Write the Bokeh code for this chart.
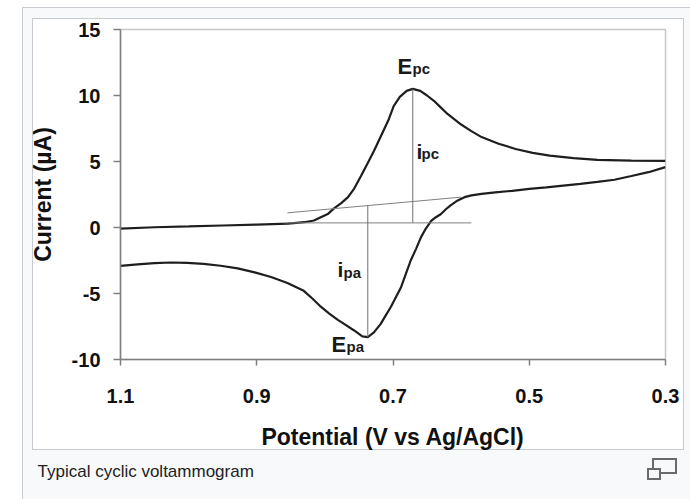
from bokeh.plotting import figure
from bokeh.models import Range1d, FixedTicker, Label, Title
from bokeh.embed import file_html
from bokeh.resources import INLINE

# Forward (cathodic) scan, potential decreasing 1.1 -> 0.3 V
fwd_E = [1.100, 1.050, 1.000, 0.950, 0.900, 0.854, 0.830, 0.816, 0.806, 0.795,
         0.787, 0.776, 0.766, 0.757, 0.747, 0.738, 0.728, 0.718, 0.707, 0.699,
         0.690, 0.680, 0.671, 0.660, 0.650, 0.640, 0.630, 0.620, 0.600, 0.585,
         0.570, 0.545, 0.520, 0.495, 0.470, 0.435, 0.400, 0.350, 0.300]
fwd_I = [-0.08, 0.02, 0.08, 0.15, 0.22, 0.30, 0.40, 0.53, 0.78, 1.05,
         1.43, 1.85, 2.30, 2.95, 3.90, 4.80, 5.80, 6.90, 8.10, 9.20,
         9.90, 10.35, 10.50, 10.35, 10.00, 9.60, 9.10, 8.60, 7.80, 7.30,
         6.85, 6.35, 5.95, 5.65, 5.45, 5.25, 5.12, 5.07, 5.05]

# Reverse (anodic) scan, potential increasing 0.3 -> 1.1 V
rev_E = [0.300, 0.325, 0.350, 0.375, 0.400, 0.425, 0.450, 0.475, 0.500, 0.525,
         0.550, 0.570, 0.585, 0.595, 0.605, 0.615, 0.622, 0.630, 0.637, 0.644,
         0.652, 0.659, 0.666, 0.674, 0.681, 0.688, 0.696, 0.703, 0.710, 0.718,
         0.728, 0.737, 0.745, 0.757, 0.769, 0.781, 0.794, 0.806, 0.818, 0.831,
         0.855, 0.879, 0.903, 0.928, 0.953, 0.978, 1.002, 1.026, 1.050, 1.075, 1.100]
rev_I = [4.57, 4.19, 3.90, 3.62, 3.45, 3.30, 3.17, 3.04, 2.92, 2.78,
         2.66, 2.55, 2.43, 2.30, 2.05, 1.70, 1.40, 1.00, 0.78, 0.50,
         -0.10, -0.75, -1.60, -2.50, -3.50, -4.50, -5.30, -6.00, -6.60, -7.30,
         -7.95, -8.30, -8.25, -7.80, -7.40, -7.00, -6.50, -6.00, -5.40, -4.80,
         -4.20, -3.75, -3.40, -3.10, -2.90, -2.75, -2.68, -2.65, -2.70, -2.80, -2.90]

# Baselines and peak markers
base_h_E = [0.860, 0.585]
base_h_I = [0.35, 0.35]
base_s_E = [0.855, 0.600]
base_s_I = [1.11, 2.30]
Epc, Ipc = 0.671, 10.50
Epa, Ipa = 0.737, -8.30
ipc_base = 0.35
ipa_base = 1.70

x_ticks = [1.1, 0.9, 0.7, 0.5, 0.3]
x_tick_labels = ["1.1", "0.9", "0.7", "0.5", "0.3"]
y_ticks = [-10, -5, 0, 5, 10, 15]
y_tick_labels = ["-10", "-5", "0", "5", "10", "15"]

FONT = "Liberation Sans"
W, H = 690, 499
FL, FR, FT, FB = 120, 665, 29, 359   # frame edges in page pixels
XS, XE, YS, YE = 1.1, 0.3, -10, 15

# Thumbnail frame painted as CSS background layers behind a transparent border
layers = [  # (color, x, y, w, h), topmost first
    ("#f8f9fa", 649, 470, 10, 8),    # enlarge icon, small box inside
    ("#6a6a6a", 647, 468, 14, 12),   # enlarge icon, small box edge
    ("#f8f9fa", 654, 460, 21, 12),   # enlarge icon, big box inside
    ("#6a6a6a", 652, 458, 25, 16),   # enlarge icon, big box edge
    ("#ffffff", 33, 19, 650, 430),   # image area
    ("#c8ccd1", 32, 18, 652, 432),   # image border
    ("#f8f9fa", 23, 8, 700, 500),    # thumb background
    ("#c8ccd1", 22, 7, 700, 500),    # thumb border
]
css = {
    "background-color": "#ffffff",
    "background-image": ", ".join(f"linear-gradient({c},{c})" for c, *_ in layers),
    "background-position": ", ".join(f"{x}px {y}px" for _, x, y, w, h in layers),
    "background-size": ", ".join(f"{w}px {h}px" for _, x, y, w, h in layers),
    "background-repeat": "no-repeat",
}

p = figure(width=W, height=H, output_backend="svg", toolbar_location=None,
           x_range=Range1d(XS, XE), y_range=Range1d(YS, YE),
           min_border_left=FL, min_border_right=W - FR, min_border_top=FT, min_border_bottom=H - FB,
           styles=css)
p.background_fill_color = "white"
p.border_fill_color = None
p.outline_line_color = "#c8c8c8"
p.outline_line_width = 1.5
p.grid.visible = False

# Data
p.line(fwd_E, fwd_I, line_color="#1e1e1e", line_width=2.2)
p.line(rev_E, rev_I, line_color="#1e1e1e", line_width=2.2)
p.line(base_h_E, base_h_I, line_color="#808080", line_width=1)
p.line(base_s_E, base_s_I, line_color="#808080", line_width=1)
p.line([Epc, Epc], [ipc_base, Ipc], line_color="#707070", line_width=1)
p.line([Epa, Epa], [Ipa, ipa_base], line_color="#707070", line_width=1)

def px2x(px):
    return XS + (px - FL) * (XE - XS) / (FR - FL)

def py2y(py):
    return YE + (py - FT) * (YS - YE) / (FB - FT)

def lab(px, py, t, size):
    p.add_layout(Label(x=px2x(px), y=py2y(py), text=t, text_font=FONT, text_font_size=size,
                       text_font_style="bold", text_color="#1a1a1a",
                       text_baseline="alphabetic", text_align="left"))

lab(397, 66, "E", "22px"); lab(412, 68, "pc", "15px")
lab(416, 151, "i", "21px"); lab(421, 153, "pc", "15px")
lab(337, 269, "i", "21px"); lab(343, 272, "pa", "15px")
lab(331, 344, "E", "22px"); lab(346, 346, "pa", "15px")

# Axes
p.xaxis.ticker = FixedTicker(ticks=x_ticks)
p.yaxis.ticker = FixedTicker(ticks=y_ticks)
p.xaxis.major_label_overrides = {t: l for t, l in zip(x_ticks, x_tick_labels)}
p.yaxis.major_label_overrides = {t: l for t, l in zip(y_ticks, y_tick_labels)}
for ax in (p.xaxis[0], p.yaxis[0]):
    ax.axis_line_color = "#7f7f7f"
    ax.axis_line_width = 1.5
    ax.major_tick_line_color = "#7f7f7f"
    ax.major_tick_line_width = 1.5
    ax.major_tick_in = 0
    ax.minor_tick_line_color = None
    ax.major_label_text_font = FONT
    ax.major_label_text_font_size = "20px"
    ax.major_label_text_font_style = "bold"
    ax.major_label_text_color = "#111111"
    ax.axis_label_text_font = FONT
    ax.axis_label_text_font_size = "23px"
    ax.axis_label_text_font_style = "bold"
    ax.axis_label_text_color = "#111111"
p.xaxis.major_tick_out = 6
p.yaxis.major_tick_out = 7
p.xaxis.major_label_standoff = 23
p.yaxis.major_label_standoff = 13
p.xaxis.axis_label = "Potential (V vs Ag/AgCl)"
p.yaxis.axis_label = "Current (µA)"
p.xaxis.axis_label_standoff = 18
p.yaxis.axis_label_standoff = 13

# Thumbnail caption
caption = Title(text="Typical cyclic voltammogram", align="left", offset=37 - FL,
                vertical_align="top", standoff=18,
                text_font=FONT, text_font_size="17px", text_font_style="normal",
                text_color="#202122")
p.add_layout(caption, "below")

open("out.html", "w").write(file_html(p, INLINE))
